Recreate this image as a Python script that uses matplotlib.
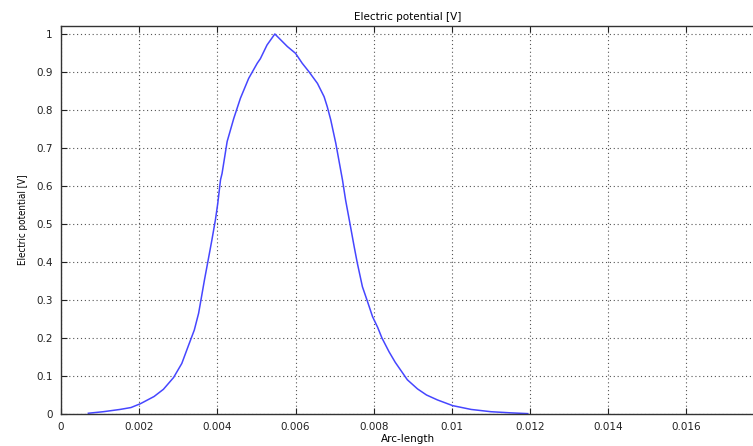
"""
Electric potential along an arc-length line.
"""
import numpy as np
import matplotlib
matplotlib.use('Agg')
import matplotlib.pyplot as plt
from matplotlib.ticker import FormatStrFormatter

plt.rcParams.update({
    "font.family": "DejaVu Sans",
    "font.size": 7.5,
})

# values
arc_length = [0.0007, 0.00108, 0.00151, 0.00179, 0.00203, 0.00238, 0.00262,
              0.00288, 0.00309, 0.00326, 0.00341, 0.00352, 0.00358, 0.00367,
              0.00375, 0.00386, 0.00395, 0.00401, 0.00408, 0.00412, 0.00425,
              0.00442, 0.00459, 0.0048, 0.00502, 0.0051, 0.00527, 0.00547,
              0.00579, 0.006, 0.00617, 0.00634, 0.00656, 0.00673, 0.00681,
              0.0069, 0.00703, 0.0072, 0.00728, 0.00739, 0.0075, 0.00758,
              0.00771, 0.00784, 0.00797, 0.0081, 0.00821, 0.00839, 0.00855,
              0.00886, 0.00912, 0.00935, 0.00963, 0.01002, 0.01049, 0.011,
              0.01151, 0.01194]
potential = [0.002, 0.006, 0.012, 0.017, 0.027, 0.046, 0.065,
             0.096, 0.133, 0.18, 0.221, 0.265, 0.3, 0.353,
             0.397, 0.458, 0.511, 0.554, 0.616, 0.633, 0.717,
             0.778, 0.831, 0.883, 0.923, 0.935, 0.971, 1.0,
             0.967, 0.949, 0.923, 0.901, 0.87, 0.835, 0.809,
             0.774, 0.712, 0.616, 0.563, 0.502, 0.44, 0.397,
             0.335, 0.296, 0.256, 0.228, 0.2, 0.164, 0.136,
             0.09, 0.066, 0.05, 0.037, 0.022, 0.012, 0.006,
             0.003, 0.001]
x_ticks = [0, 0.002, 0.004, 0.006, 0.008, 0.01, 0.012, 0.014, 0.016]
y_ticks = [0, 0.1, 0.2, 0.3, 0.4, 0.5, 0.6, 0.7, 0.8, 0.9, 1.0]


def main():
    fig = plt.figure(figsize=(7.53, 4.46), dpi=100)
    ax = fig.add_axes([61 / 753, 1 - 414 / 446, 1 - 61 / 753 + 0.002, (414 - 26) / 446])

    ax.plot(arc_length, potential, color='#4646ff', lw=1.1)

    ax.set_xlim(0, 0.01774)
    ax.set_ylim(0, 1.021)
    ax.set_xticks(x_ticks)
    ax.set_yticks(y_ticks)
    ax.xaxis.set_major_formatter(FormatStrFormatter('%g'))
    ax.yaxis.set_major_formatter(FormatStrFormatter('%g'))
    ax.tick_params(direction='in', top=True, right=False, length=4,
                   width=0.8, colors='#222222', labelsize=7.5, pad=6)
    ax.grid(True, color='#555555', ls=(0, (1, 2.5)), lw=0.8)
    for side in ['left', 'bottom', 'top']:
        ax.spines[side].set_color('#333333')
        ax.spines[side].set_linewidth(1.0)
    ax.spines['right'].set_visible(False)

    ax.set_title('Electric potential [V]', fontsize=7.5, pad=4)
    ax.set_xlabel('Arc-length', fontsize=7.5, labelpad=1)
    ax.set_ylabel('Electric potential [V]', fontsize=7, labelpad=6,
                  fontstretch='condensed')

    fig.savefig('out.png', dpi=100)
    plt.close(fig)


if __name__ == '__main__':
    main()
